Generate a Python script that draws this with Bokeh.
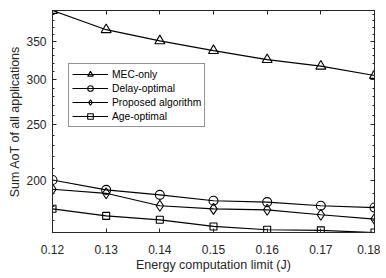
from bokeh.plotting import figure
from bokeh.models import (Range1d, FixedTicker, LinearAxis, LogAxis, Legend,
                          LegendItem, CustomJSTickFormatter)
from bokeh.embed import file_html
from bokeh.resources import INLINE

energy = [0.12, 0.13, 0.14, 0.15, 0.16, 0.17, 0.18]
mec_only = [396.0, 366.6, 350.5, 337.0, 325.0, 316.6, 305.0]
delay_opt = [200.4, 192.6, 188.8, 184.4, 183.4, 180.7, 179.4]
proposed = [193.1, 190.0, 180.7, 178.5, 177.8, 174.3, 171.3]
age_opt = [178.5, 173.5, 170.8, 166.3, 164.1, 163.7, 162.3]

y_ticks = [200, 250, 300, 350]
y_minor = [170, 180, 190, 210, 220, 230, 240, 260, 270, 280, 290,
           310, 320, 330, 340, 360, 370, 380, 390]
x_ticks = [0.12, 0.13, 0.14, 0.15, 0.16, 0.17, 0.18]

FONT = "Liberation Sans"
AX = "#262626"

p = figure(width=380, height=274, output_backend="svg", toolbar_location=None,
           y_axis_type="log",
           x_range=Range1d(0.12, 0.18),
           y_range=Range1d(min(age_opt), max(mec_only)),
           min_border_left=52, min_border_right=6, min_border_top=10,
           min_border_bottom=42)
p.grid.visible = False
p.outline_line_color = AX
p.background_fill_color = "white"

yt = FixedTicker(ticks=y_ticks, minor_ticks=y_minor)
xt = FixedTicker(ticks=x_ticks)

def style(ax):
    ax.axis_line_color = AX
    ax.major_tick_line_color = AX
    ax.minor_tick_line_color = AX
    ax.major_tick_in = 4
    ax.major_tick_out = 0
    ax.minor_tick_in = 2
    ax.minor_tick_out = 0
    ax.major_label_text_font = FONT
    ax.major_label_text_font_size = "12px"
    ax.major_label_text_color = AX
    ax.axis_label_text_font = FONT
    ax.axis_label_text_font_size = "12.5px"
    ax.axis_label_text_font_style = "normal"
    ax.axis_label_text_color = AX

ya = p.yaxis[0]
ya.ticker = yt
ya.formatter = CustomJSTickFormatter(code="return tick.toFixed(0);")
ya.axis_label = "Sum AoT of all applications"
style(ya)
ya.major_label_standoff = 6
ya.axis_label_standoff = 1

xa = p.xaxis[0]
xa.ticker = xt
xa.formatter = CustomJSTickFormatter(code="return tick.toFixed(2);")
xa.axis_label = "Energy computation limit (J)"
style(xa)
xa.minor_tick_in = 0
xa.major_label_standoff = 12
xa.axis_label_standoff = 1

empty = CustomJSTickFormatter(code="return '';")
ra = LogAxis(ticker=yt, formatter=empty)
style(ra)
ra.major_label_standoff = 0
ta = LinearAxis(ticker=xt, formatter=empty)
style(ta)
ta.minor_tick_in = 0
ta.major_label_standoff = 0
p.add_layout(ra, "right")
p.add_layout(ta, "above")

series = [("MEC-only", mec_only, "triangle", 10),
          ("Delay-optimal", delay_opt, "circle", 9),
          ("Proposed algorithm", proposed, "diamond", 11),
          ("Age-optimal", age_opt, "square", 7)]
items = []
for name, ys, marker, sz in series:
    l = p.line(energy, ys, line_color="black", line_width=1.2)
    s = p.scatter(energy, ys, marker=marker, size=sz,
                  line_color="black", fill_color=None, line_width=1.1)
    items.append(LegendItem(label=name, renderers=[l, s]))

leg = Legend(items=items, location=(16, 105))
leg.label_text_font = FONT
leg.label_text_font_size = "10.3px"
leg.label_text_color = "black"
leg.glyph_width = 36
leg.glyph_height = 14
leg.label_height = 14
leg.spacing = 0
leg.padding = 3
leg.margin = 0
leg.label_standoff = 4
leg.border_line_color = AX
leg.border_line_width = 1
leg.background_fill_alpha = 1
p.add_layout(leg, "center")

open("out.html", "w").write(file_html(p, INLINE))
